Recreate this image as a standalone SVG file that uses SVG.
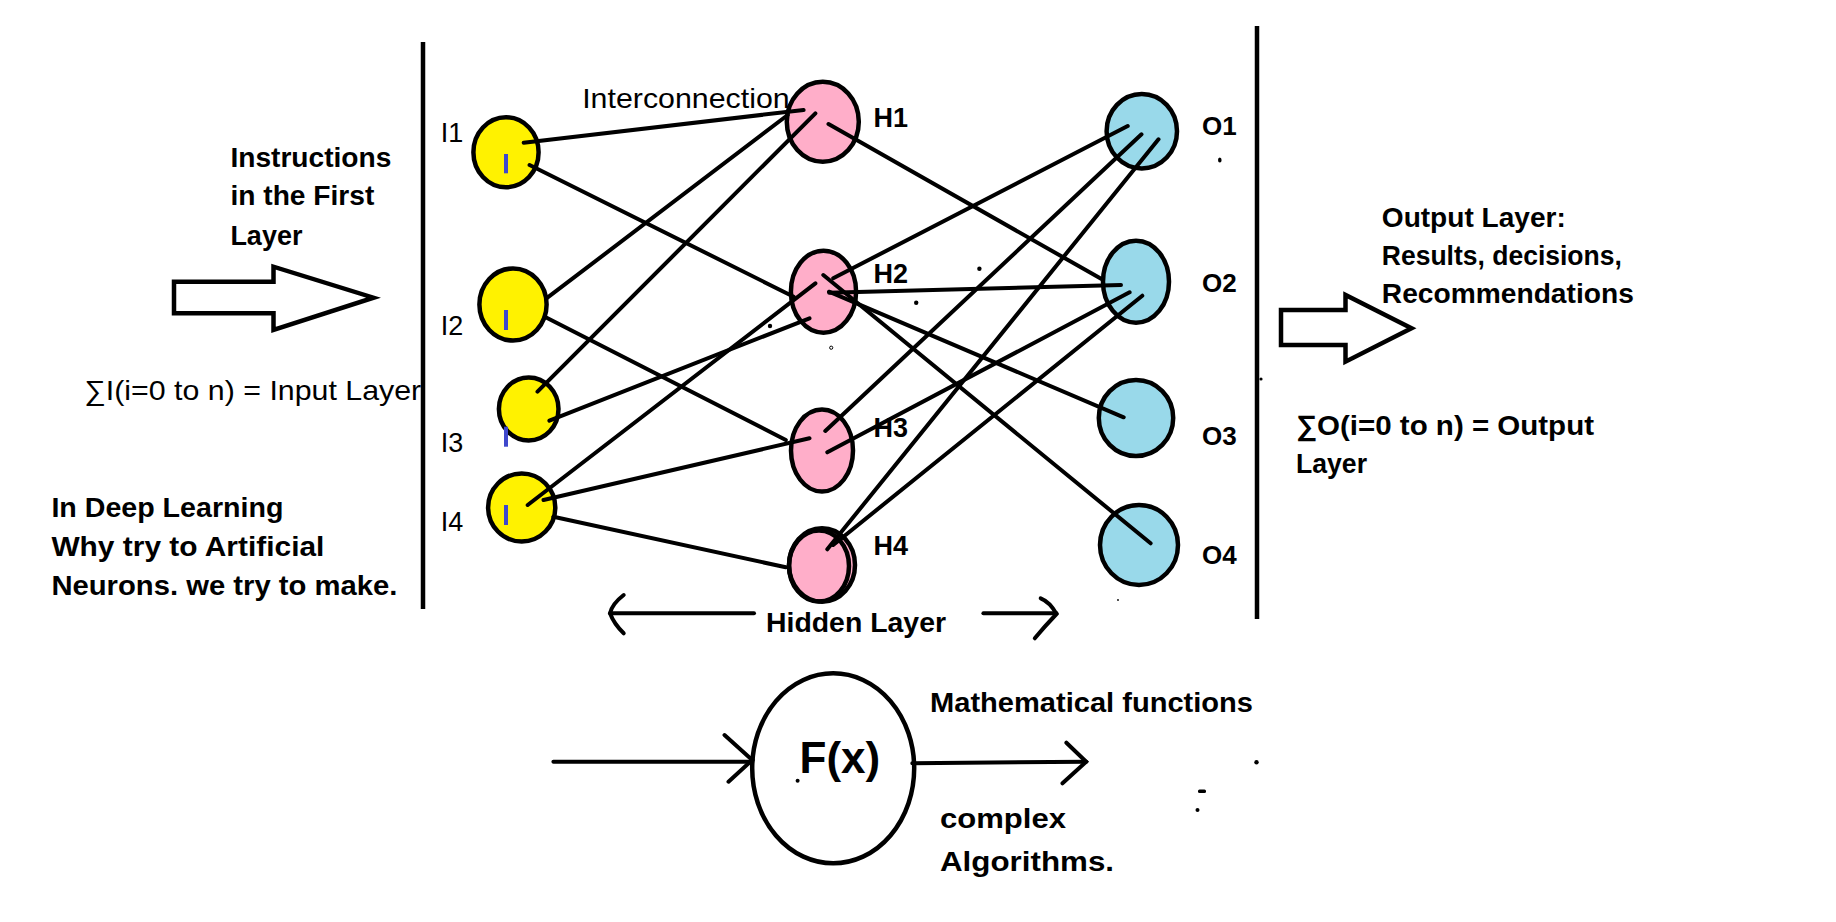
<svg xmlns="http://www.w3.org/2000/svg" width="1836" height="922" viewBox="0 0 1836 922">
<style>
.nd{stroke:#000;stroke-width:4.5}
.in{fill:#FFF200}
.hd{fill:#FFAEC9}
.ot{fill:#99D9EA}
.mk{fill:#3F48CC}
.ln{stroke:#000;stroke-width:4;stroke-linecap:round;fill:none}
.bar{stroke:#000;stroke-width:4.5;fill:none}
.blk{fill:#fff;stroke:#000;stroke-width:4.5;stroke-linejoin:miter}
.t{font-family:"Liberation Sans",Arial,sans-serif;font-size:28px;fill:#000}
.b{font-weight:bold}
.dot{fill:#000}
</style>

<g id="layer-bars">
<line class="bar" x1="423" y1="42" x2="423" y2="609"/>
<line class="bar" x1="1257" y1="26" x2="1257" y2="619"/>
</g>

<g id="input-arrow">
<polygon class="blk" points="174,281.7 273.5,281.7 273.5,266.7 373.5,297.7 273.5,330 273.5,313.3 174,313.3"/>
</g>
<g id="output-arrow">
<polygon class="blk" points="1281,310 1345.5,310 1345.5,295 1411.5,328.3 1345.5,361.7 1345.5,345 1281,345"/>
</g>

<g id="I1"><ellipse class="nd in" cx="506" cy="152.3" rx="32.6" ry="35"/><rect class="mk" x="504" y="154" width="4" height="19.3"/></g>
<g id="I2"><ellipse class="nd in" cx="513" cy="304.5" rx="33.6" ry="36"/><rect class="mk" x="504" y="310" width="4" height="20"/></g>
<g id="I3"><ellipse class="nd in" cx="528.7" cy="409" rx="29.8" ry="31.5"/><rect class="mk" x="504" y="426.7" width="4" height="20"/></g>
<g id="I4"><ellipse class="nd in" cx="521.7" cy="507.5" rx="33.6" ry="34"/><rect class="mk" x="504" y="505" width="4" height="20"/></g>

<g id="H1"><ellipse class="nd hd" cx="822.8" cy="121.7" rx="36" ry="40"/></g>
<g id="H2"><ellipse class="nd hd" cx="823.5" cy="291.7" rx="32.6" ry="41"/></g>
<g id="H3"><ellipse class="nd hd" cx="822" cy="450.5" rx="31" ry="41"/></g>
<g id="H4"><ellipse class="nd hd" cx="822" cy="565" rx="33" ry="36.7"/><ellipse class="nd" fill="none" cx="819" cy="566" rx="30" ry="35.5"/></g>

<g id="O1"><ellipse class="nd ot" cx="1141.8" cy="131.2" rx="35.2" ry="37.2"/></g>
<g id="O2"><ellipse class="nd ot" cx="1136" cy="281.7" rx="33" ry="41"/></g>
<g id="O3"><ellipse class="nd ot" cx="1136" cy="418" rx="37.2" ry="38"/></g>
<g id="O4"><ellipse class="nd ot" cx="1139" cy="545" rx="39" ry="40"/></g>

<g id="connectors">
<line class="ln" x1="523.7" y1="142.7" x2="803.6" y2="110"/>
<line class="ln" x1="529.6" y1="165" x2="793.7" y2="296.7"/>
<line class="ln" x1="547.4" y1="297.7" x2="787.7" y2="115"/>
<line class="ln" x1="544.7" y1="316.7" x2="785.8" y2="440"/>
<line class="ln" x1="537.5" y1="391.7" x2="815.4" y2="113.3"/>
<line class="ln" x1="549.4" y1="420.7" x2="809.5" y2="318.3"/>
<line class="ln" x1="527.7" y1="505" x2="815.4" y2="283.3"/>
<line class="ln" x1="543.5" y1="500" x2="809.5" y2="438.3"/>
<line class="ln" x1="553.4" y1="516.7" x2="785.8" y2="567.3"/>
<line class="ln" x1="828.5" y1="124" x2="1102" y2="279.3"/>
<line class="ln" x1="833.2" y1="278.3" x2="1127.7" y2="126"/>
<line class="ln" x1="829.2" y1="292.7" x2="1121" y2="285"/>
<line class="ln" x1="829" y1="291.7" x2="1123.7" y2="417.3"/>
<line class="ln" x1="823.3" y1="275" x2="1150.6" y2="543.3"/>
<line class="ln" x1="825.3" y1="431" x2="1141.5" y2="134.3"/>
<line class="ln" x1="827.3" y1="452.3" x2="1129.6" y2="292.3"/>
<line class="ln" x1="827.3" y1="549.3" x2="1158.5" y2="139.3"/>
<line class="ln" x1="833.2" y1="545" x2="1142.3" y2="295.7"/>
</g>

<g id="hidden-span">
<line class="ln" x1="754" y1="613.3" x2="610" y2="613.3"/>
<path class="ln" stroke-width="3" d="M623.7,595 Q612,604 610,613.3 Q614,624 623.7,633.3"/>
<line class="ln" x1="983.4" y1="613.3" x2="1056.5" y2="613.3"/>
<path class="ln" stroke-width="3" d="M1040.7,598.3 Q1050,602 1056.5,614 Q1045,626 1034.8,638.3"/>
</g>

<g id="Fx">
<ellipse class="nd" fill="#fff" cx="833.2" cy="768.3" rx="81" ry="95"/>
<text class="t b" x="799.6" y="773.3" style="font-size:44px">F(x)</text>
</g>

<g id="fx-arrows">
<line class="ln" x1="553.4" y1="761.7" x2="752.2" y2="761.7"/>
<polyline class="ln" points="724.5,735 752.2,760 728.5,781.7"/>
<line class="ln" x1="912.3" y1="763.3" x2="1086.2" y2="761.7"/>
<polyline class="ln" points="1066.4,742.7 1086.2,761.7 1062.5,783.3"/>
</g>

<g id="specks">
<circle class="dot" cx="979.4" cy="268.7" r="2.2"/>
<circle class="dot" cx="916.2" cy="302.7" r="2.2"/>
<circle class="dot" cx="770" cy="326" r="2.2"/>
<circle cx="831.2" cy="347.7" r="1.6" fill="none" stroke="#000" stroke-width="1"/>
<ellipse class="dot" cx="1219.8" cy="160" rx="1.8" ry="2.6"/>
<circle class="dot" cx="1261" cy="379" r="1.6"/>
<circle class="dot" cx="797.6" cy="780.7" r="2"/>
<circle class="dot" cx="1256.5" cy="762.3" r="2.2"/>
<rect class="dot" x="1198" y="789.5" width="8" height="3.5" rx="1.5"/>
<circle class="dot" cx="1197.5" cy="810" r="2"/>
<circle class="dot" cx="1118" cy="600" r="0.9"/>
</g>

<g id="labels">
<text class="t b" x="230.4" y="166.7" textLength="161" lengthAdjust="spacingAndGlyphs">Instructions</text>
<text class="t b" x="230.4" y="205" textLength="144" lengthAdjust="spacingAndGlyphs">in the First</text>
<text class="t b" x="230.4" y="245" textLength="72" lengthAdjust="spacingAndGlyphs">Layer</text>
<text class="t" x="84.2" y="400" textLength="337" lengthAdjust="spacingAndGlyphs">∑I(i=0 to n) = Input Layer</text>
<text class="t b" x="51.4" y="516.7" textLength="232" lengthAdjust="spacingAndGlyphs">In Deep Learning</text>
<text class="t b" x="51.4" y="555.7" textLength="273" lengthAdjust="spacingAndGlyphs">Why try to Artificial</text>
<text class="t b" x="51.4" y="595" textLength="346" lengthAdjust="spacingAndGlyphs">Neurons. we try to make.</text>
<text class="t" x="440.7" y="141.7" style="font-size:27px">I1</text>
<text class="t" x="440.7" y="335" style="font-size:27px">I2</text>
<text class="t" x="440.7" y="451.7" style="font-size:27px">I3</text>
<text class="t" x="440.7" y="530.7" style="font-size:27px">I4</text>
<text class="t" x="582.2" y="108.3" textLength="207.5" lengthAdjust="spacingAndGlyphs">Interconnection</text>
<text class="t b" x="873.5" y="126.7" style="font-size:27px">H1</text>
<text class="t b" x="873.5" y="282.7" style="font-size:27px">H2</text>
<text class="t b" x="873.5" y="436.7" style="font-size:27px">H3</text>
<text class="t b" x="873.5" y="555" style="font-size:27px">H4</text>
<text class="t b" x="1202" y="135" style="font-size:26px">O1</text>
<text class="t b" x="1202" y="291.7" style="font-size:26px">O2</text>
<text class="t b" x="1202" y="445" style="font-size:26px">O3</text>
<text class="t b" x="1202" y="564" style="font-size:26px">O4</text>
<text class="t b" x="1381.8" y="226.7" textLength="184" lengthAdjust="spacingAndGlyphs">Output Layer:</text>
<text class="t b" x="1381.8" y="265" textLength="240" lengthAdjust="spacingAndGlyphs">Results, decisions,</text>
<text class="t b" x="1381.8" y="303.3" textLength="252" lengthAdjust="spacingAndGlyphs">Recommendations</text>
<text class="t b" x="1296" y="435" textLength="298" lengthAdjust="spacingAndGlyphs">∑O(i=0 to n) = Output</text>
<text class="t b" x="1296" y="473.3" textLength="71" lengthAdjust="spacingAndGlyphs">Layer</text>
<text class="t b" x="766" y="631.7" textLength="180" lengthAdjust="spacingAndGlyphs">Hidden Layer</text>
<text class="t b" x="930" y="711.7" textLength="323" lengthAdjust="spacingAndGlyphs">Mathematical functions</text>
<text class="t b" x="940" y="828.3" textLength="126" lengthAdjust="spacingAndGlyphs">complex</text>
<text class="t b" x="940" y="870.7" textLength="174" lengthAdjust="spacingAndGlyphs">Algorithms.</text>
</g>
</svg>
